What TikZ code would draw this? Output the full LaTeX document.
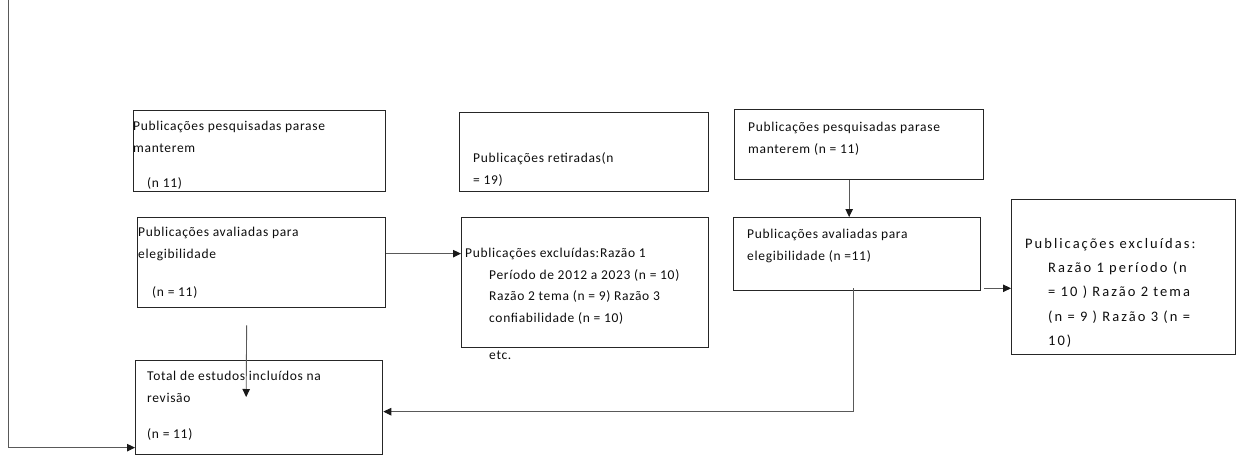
\documentclass[tikz,border=0pt]{standalone}
\usepackage{fontspec}
\setmainfont{Carlito}
\newfontfamily\boxfont[LetterSpace=5]{Carlito}
\newfontfamily\widefont[LetterSpace=14]{Carlito}
\usetikzlibrary{arrows.meta, positioning}
\tikzset{%
	box/.style={draw=black!85, line width=1.3pt, rectangle, anchor=north west, inner sep=0pt},
	txt/.style={anchor=north west, align=left, inner sep=0pt, text=black!95,%
		font=\boxfont\fontsize{13.5}{21.5}\selectfont, execute at begin node=\rule{0pt}{11pt}},
	bigtxt/.style={txt, font=\widefont\fontsize{14.5}{24.3}\selectfont, execute at begin node=\rule{0pt}{12pt}},
	conn/.style={-{Triangle[length=8pt, width=7.5pt, color=black!90]}, draw=black!65, line width=0.9pt}
}

\begin{document}
\begin{tikzpicture}[x=1pt, y=-1pt]
	\useasboundingbox (0,0) rectangle (1236,455);

	% left column
	\node[box, minimum width=252pt, minimum height=81pt] (pesq) at (133,110) {};
	\node[box, minimum width=248pt, minimum height=90pt] (aval) at (137,217) {};
	\node[box, minimum width=247pt, minimum height=94pt] (total) at (135,360) {};
	% middle column
	\node[box, minimum width=249pt, minimum height=79pt] (ret) at (459,112) {};
	\node[box, minimum width=247pt, minimum height=130pt] (excl) at (461,217) {};
	% right column
	\node[box, minimum width=249pt, minimum height=70pt] (pesqb) at (734,109) {};
	\node[box, minimum width=247pt, minimum height=73pt] (avalb) at (733,217) {};
	\node[box, minimum width=224pt, minimum height=155pt] (exclb) at (1011,199) {};

	% texts
	\node[txt] (pesqtxt) at ([shift={(0pt,-11pt)}]pesq.north west)
		{Publicações pesquisadas parase\\manterem\\[14pt]\hspace*{14pt}(n 11)};
	\node[txt, font=\boxfont\fontsize{13.5}{22}\selectfont] (avaltxt) at ([shift={(1pt,-10pt)}]aval.north west)
		{Publicações avaliadas para\\elegibilidade\\[16pt]\hspace*{14pt}(n = 11)};
	\node[txt] (totaltxt) at ([shift={(12pt,-11pt)}]total.north west)
		{Total de estudos incluídos na\\revisão\\[15pt](n = 11)};
	\node[txt, font=\boxfont\fontsize{13.5}{22}\selectfont] (rettxt) at ([shift={(14pt,-40pt)}]ret.north west)
		{Publicações retiradas(n\\= 19)};
	\node[txt] (excltxt) at ([shift={(4pt,-31pt)}]excl.north west)
		{Publicações excluídas:Razão 1\\
		\hspace*{24pt}Período de 2012 a 2023 (n = 10)\\
		\hspace*{24pt}Razão 2 tema (n = 9) Razão 3\\
		\hspace*{24pt}confiabilidade (n = 10)};
	\node[txt] (etc) at ([shift={(28pt,0pt)}]excl.south west) {etc.};
	\node[txt, font=\boxfont\fontsize{13.5}{22}\selectfont] (pesqbtxt) at ([shift={(14pt,-13pt)}]pesqb.north west)
		{Publicações pesquisadas parase\\manterem (n = 11)};
	\node[txt, font=\boxfont\fontsize{13.5}{22}\selectfont] (avalbtxt) at ([shift={(14pt,-12pt)}]avalb.north west)
		{Publicações avaliadas para\\elegibilidade (n =11)};
	\node[bigtxt] (exclbtxt) at ([shift={(14pt,-39pt)}]exclb.north west)
		{Publicações excluídas:\\
		\hspace*{23pt}Razão 1 período (n\\
		\hspace*{23pt}= 10 ) Razão 2 tema\\
		\hspace*{23pt}(n = 9 ) Razão 3 (n =\\
		\hspace*{23pt}10)};

	% connectors
	\coordinate (start) at (8,0);
	\coordinate (gh) at ([shift={(3pt,3pt)}]avalb.south east);
	\draw[conn] (start) |- ([yshift=-40pt]total.west);
	\draw[conn] ([yshift=9pt]aval.east) -- ([yshift=29pt]excl.west);
	\draw[conn] ([shift={(-15pt,-17pt)}]aval.south) -- ([shift={(-13pt,-37pt)}]total.north);
	\draw[conn] ([xshift=-10pt]pesqb.south) -- ([xshift=-10pt]pesqb.south |- avalb.north);
	\draw[conn] (gh) -- (gh -| exclb.west);
	\draw[conn] ([shift={(-4pt,3pt)}]avalb.south) |- ([yshift=-4pt]total.east);
\end{tikzpicture}
\end{document}
